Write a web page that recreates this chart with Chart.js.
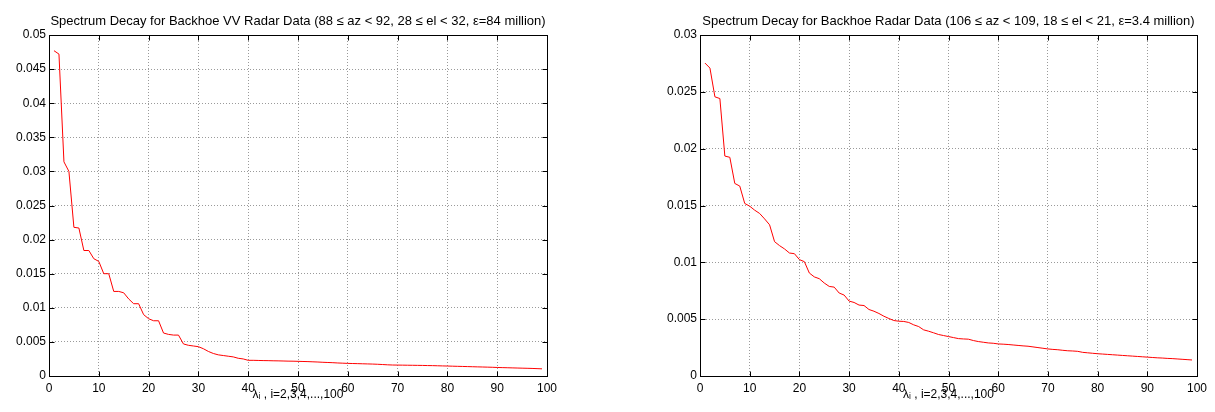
<!DOCTYPE html>
<html>
<head>
<meta charset="utf-8">
<title>Spectrum Decay for Backhoe Radar Data</title>
<script src="https://cdn.jsdelivr.net/npm/chart.js@4.4.0/dist/chart.umd.min.js"></script>
<style>
    html, body { margin: 0; padding: 0; background: #fff; }
    body { position: relative; width: 1215px; height: 412px; overflow: hidden; }
    .panel { position: absolute; top: 0; height: 412px; }
    #left-panel { left: 0; width: 600px; }
    #right-panel { left: 620px; width: 595px; }
</style>
</head>
<body>
<div class="panel" id="left-panel"><canvas id="leftChart"></canvas></div>
<div class="panel" id="right-panel"><canvas id="rightChart"></canvas></div>
<script>
/**
 * Eigenvalue index (lambda_i for i = 2..100 is plotted at 1..99)
 */
const lambdaIdx = [
    1, 2, 3, 4, 5, 6, 7, 8, 9, 10, 11, 12, 13, 14, 15, 16, 17, 18, 19, 20,
    21, 22, 23, 24, 25, 26, 27, 28, 29, 30, 31, 32, 33, 34, 35, 36, 37, 38, 39, 40,
    41, 42, 43, 44, 45, 46, 47, 48, 49, 50, 51, 52, 53, 54, 55, 56, 57, 58, 59, 60,
    61, 62, 63, 64, 65, 66, 67, 68, 69, 70, 71, 72, 73, 74, 75, 76, 77, 78, 79, 80,
    81, 82, 83, 84, 85, 86, 87, 88, 89, 90, 91, 92, 93, 94, 95, 96, 97, 98, 99,
];

// VV polarisation, 88 <= az < 92, 28 <= el < 32
const spectrumVV = [
    0.0477, 0.0472, 0.0314, 0.0300, 0.0218, 0.0217, 0.0184, 0.0184, 0.0172, 0.0168,
    0.0150, 0.0150, 0.0124, 0.0124, 0.0122, 0.0113, 0.0106, 0.0106, 0.0090, 0.0084,
    0.0081, 0.0081, 0.0063, 0.0061, 0.0060, 0.0060, 0.0047, 0.0045, 0.0044, 0.0043,
    0.0040, 0.0036, 0.0033, 0.0031, 0.0030, 0.0029, 0.0028, 0.0026, 0.0025, 0.0023,
    0.00230, 0.00228, 0.00226, 0.00225, 0.00223, 0.00222, 0.00220, 0.00218, 0.00217, 0.00215,
    0.00213, 0.00211, 0.00208, 0.00205, 0.00201, 0.00198, 0.00195, 0.00191, 0.00188, 0.00185,
    0.00183, 0.00181, 0.00179, 0.00177, 0.00175, 0.00172, 0.00168, 0.00164, 0.00161, 0.00160,
    0.00159, 0.00158, 0.00157, 0.00156, 0.00155, 0.00153, 0.00152, 0.00150, 0.00148, 0.00146,
    0.00144, 0.00142, 0.00140, 0.00138, 0.00136, 0.00134, 0.00132, 0.00130, 0.00128, 0.00125,
    0.00123, 0.00121, 0.00119, 0.00117, 0.00115, 0.00113, 0.00111, 0.00108, 0.00105,
];

// 106 <= az < 109, 18 <= el < 21
const spectrumAll = [
    0.02753, 0.02709, 0.02456, 0.02441, 0.01935, 0.01924, 0.01694, 0.01671, 0.01518, 0.01494,
    0.01459, 0.01430, 0.01382, 0.01330, 0.01182, 0.01147, 0.01118, 0.01082, 0.01076, 0.01024,
    0.01006, 0.00906, 0.00872, 0.00856, 0.00818, 0.00788, 0.00782, 0.00730, 0.00712, 0.00659,
    0.00647, 0.00624, 0.00620, 0.00585, 0.00570, 0.00550, 0.00526, 0.00506, 0.00488, 0.00482,
    0.00480, 0.00471, 0.00450, 0.00435, 0.00406, 0.00394, 0.00380, 0.00365, 0.00356, 0.00347,
    0.00338, 0.00329, 0.00326, 0.00324, 0.00312, 0.00303, 0.00297, 0.00291, 0.00288, 0.00282,
    0.00280, 0.00277, 0.00273, 0.00269, 0.00265, 0.00262, 0.00256, 0.00250, 0.00244, 0.00238,
    0.00234, 0.00231, 0.00226, 0.00222, 0.00220, 0.00217, 0.00208, 0.00204, 0.00200, 0.00196,
    0.00193, 0.00190, 0.00187, 0.00184, 0.00181, 0.00178, 0.00175, 0.00172, 0.00169, 0.00166,
    0.00163, 0.00160, 0.00158, 0.00155, 0.00153, 0.00150, 0.00147, 0.00144, 0.00141,
];

// Axis limits / tick steps
const xLimits = [0, 100];
const xStep = 10;
const yLimitsVV = [0, 0.05];
const yLimitsAll = [0, 0.03];
const yStep = 0.005;

// Text
const titleVV = "Spectrum Decay for Backhoe VV Radar Data (88 \u2264 az < 92, 28 \u2264 el < 32, \u03b5=84 million)";
const titleAll = "Spectrum Decay for Backhoe Radar Data (106 \u2264 az < 109, 18 \u2264 el < 21, \u03b5=3.4 million)";
const xLabel = "\u03bb\u1d62 , i=2,3,4,...,100";

/**
 * Plot config
 */
const tickLen = 5;
const fontFamily = "'Liberation Sans', Arial, 'DejaVu Sans', sans-serif";

Chart.defaults.font.family = fontFamily;
Chart.defaults.color = "#000";

/**
 * Draws the axes box plus the inward tick marks on all four sides
 */
const axesBox = {
    id: "axesBox",
    afterDatasetsDraw(chart) {
        const { ctx, chartArea: a, scales } = chart;
        const left = Math.round(a.left) + 0.5;
        const right = Math.round(a.right) + 0.5;
        const top = Math.round(a.top) + 0.5;
        const bottom = Math.round(a.bottom) + 0.5;

        ctx.save();
        ctx.strokeStyle = "#000";
        ctx.lineWidth = 1;
        ctx.beginPath();
        scales.x.ticks.forEach(t => {
            const px = Math.round(scales.x.getPixelForValue(t.value)) + 0.5;
            ctx.moveTo(px, bottom);
            ctx.lineTo(px, bottom - tickLen);
            ctx.moveTo(px, top);
            ctx.lineTo(px, top + tickLen);
        });
        scales.y.ticks.forEach(t => {
            const py = Math.round(scales.y.getPixelForValue(t.value)) + 0.5;
            ctx.moveTo(left, py);
            ctx.lineTo(left + tickLen, py);
            ctx.moveTo(right, py);
            ctx.lineTo(right - tickLen, py);
        });
        ctx.stroke();
        ctx.strokeRect(left, top, right - left, bottom - top);
        ctx.restore();
    },
};

/**
 * Builds one spectrum plot
 *
 * @param {string} canvasId
 * @param {string} title
 * @param {number[]} values
 * @param {number[]} yLimits
 * @param {number} yAxisWidth  space left of the axes box
 * @param {number} rightPad    space right of the axes box
 */
function buildSpectrum(canvasId, title, values, yLimits, yAxisWidth, rightPad) {
    const points = lambdaIdx.map((x, i) => ({ x: x, y: values[i] }));

    return new Chart(document.getElementById(canvasId), {
        type: "line",
        data: {
            datasets: [
                {
                    data: points,
                    borderColor: "#ff0000",
                    borderWidth: 1,
                    pointRadius: 0,
                    tension: 0,
                    fill: false,
                },
            ],
        },
        options: {
            responsive: true,
            maintainAspectRatio: false,
            animation: false,
            devicePixelRatio: 1,
            layout: {
                padding: { left: 0, right: rightPad, top: 0, bottom: 0 },
            },
            plugins: {
                legend: { display: false },
                tooltip: { enabled: false },
                title: {
                    display: true,
                    text: title,
                    fullSize: false,
                    color: "#000",
                    font: { size: 13, weight: "normal", lineHeight: 1.2 },
                    padding: { top: 14, bottom: 5.4 },
                },
            },
            scales: {
                x: {
                    type: "linear",
                    min: xLimits[0],
                    max: xLimits[1],
                    ticks: {
                        stepSize: xStep,
                        maxRotation: 0,
                        padding: 5,
                        color: "#000",
                        font: { size: 12 },
                    },
                    grid: {
                        color: "#9a9a9a",
                        drawTicks: false,
                    },
                    border: { display: false, dash: [1, 2] },
                    title: {
                        display: true,
                        text: xLabel,
                        color: "#000",
                        font: { size: 12 },
                        padding: { top: 0, bottom: 9.8 },
                    },
                    afterFit: scale => {
                        scale.height = 36;
                    },
                },
                y: {
                    type: "linear",
                    min: yLimits[0],
                    max: yLimits[1],
                    ticks: {
                        stepSize: yStep,
                        padding: 3,
                        color: "#000",
                        font: { size: 12 },
                        callback: v => String(+v.toFixed(3)),
                    },
                    grid: {
                        color: "#9a9a9a",
                        drawTicks: false,
                    },
                    border: { display: false, dash: [1, 2] },
                    afterFit: scale => {
                        scale.width = yAxisWidth;
                    },
                },
            },
        },
        plugins: [axesBox],
    });
}

buildSpectrum("leftChart", titleVV, spectrumVV, yLimitsVV, 49, 53);
buildSpectrum("rightChart", titleAll, spectrumAll, yLimitsAll, 80, 18);
</script>
</body>
</html>
